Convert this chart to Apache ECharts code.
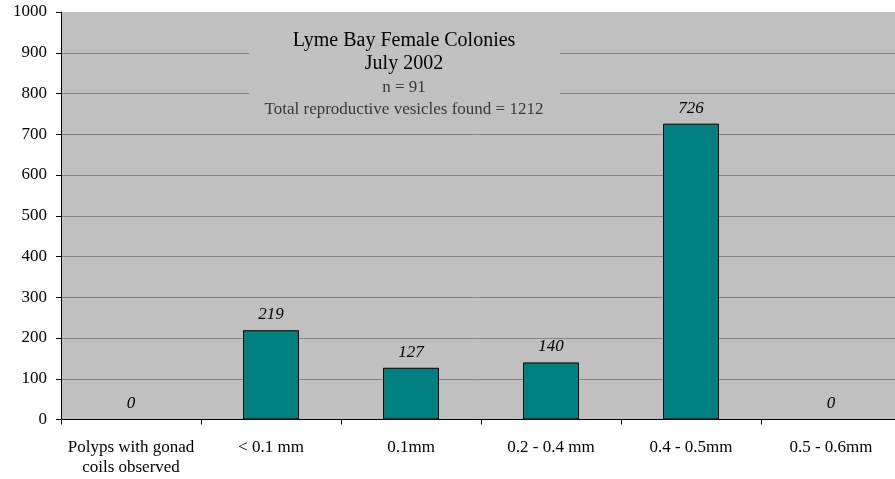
<!DOCTYPE html>
<html>
<head>
<meta charset="utf-8">
<script src="https://cdn.jsdelivr.net/npm/echarts@6/dist/echarts.min.js"></script>
<style>html,body{margin:0;padding:0;background:#fff;}#c{width:895px;height:479px;}</style>
</head>
<body>
<div id="c"></div>
<script>
const categories = ['Polyps with gonad\ncoils observed', '< 0.1 mm', '0.1mm', '0.2 - 0.4 mm', '0.4 - 0.5mm', '0.5 - 0.6mm'];
const values = [0, 219, 127, 140, 726, 0];
const titleLines = ['Lyme Bay Female Colonies', 'July 2002', 'n = 91', 'Total reproductive vesicles found = 1212'];

const chart = echarts.init(document.getElementById('c'));
const font = '"Liberation Serif", "Times New Roman", serif';
chart.setOption({
  animation: false,
  grid: { left: 61, right: -6, top: 12, bottom: 59.5, outerBoundsMode: 'none', containLabel: false, show: true, backgroundColor: '#c0c0c0', borderWidth: 0 },
  xAxis: {
    type: 'category', data: categories,
    axisLine: { lineStyle: { color: '#000', width: 1 } },
    axisTick: { show: true, length: 5, lineStyle: { color: '#000' } },
    axisLabel: { color: '#000', fontFamily: font, fontSize: 17, margin: 18, lineHeight: 20, interval: 0 }
  },
  yAxis: {
    type: 'value', min: 0, max: 1000, interval: 100,
    axisLine: { show: true, lineStyle: { color: '#000', width: 1 } },
    axisTick: { show: true, length: 5, lineStyle: { color: '#000' } },
    axisLabel: { color: '#000', fontFamily: font, fontSize: 17, margin: 14, formatter: v => String(v) },
    splitLine: { show: true, showMaxLine: false, lineStyle: { color: '#848484', width: 1 } }
  },
  series: [{
    type: 'bar', data: values, barWidth: '40%',
    itemStyle: { color: '#008080', borderColor: '#000', borderWidth: 1 },
    label: { show: true, position: 'top', distance: 7, color: '#000', fontFamily: font, fontSize: 17, fontStyle: 'italic' }
  }],
  graphic: [
    { type: 'rect', shape: { x: 249, y: 22, width: 311, height: 106 }, style: { fill: '#c0c0c0' }, z: 10 },
    { type: 'text', x: 404, y: 41, style: { text: titleLines[0], fill: '#000', font: '20px ' + font, textAlign: 'center', textVerticalAlign: 'middle' }, z: 11 },
    { type: 'text', x: 404, y: 64, style: { text: titleLines[1], fill: '#000', font: '20px ' + font, textAlign: 'center', textVerticalAlign: 'middle' }, z: 11 },
    { type: 'text', x: 404, y: 88, style: { text: titleLines[2], fill: '#383838', font: '17px ' + font, textAlign: 'center', textVerticalAlign: 'middle' }, z: 11 },
    { type: 'text', x: 404, y: 110, style: { text: titleLines[3], fill: '#383838', font: '17px ' + font, textAlign: 'center', textVerticalAlign: 'middle' }, z: 11 }
  ]
});
</script>
</body>
</html>
